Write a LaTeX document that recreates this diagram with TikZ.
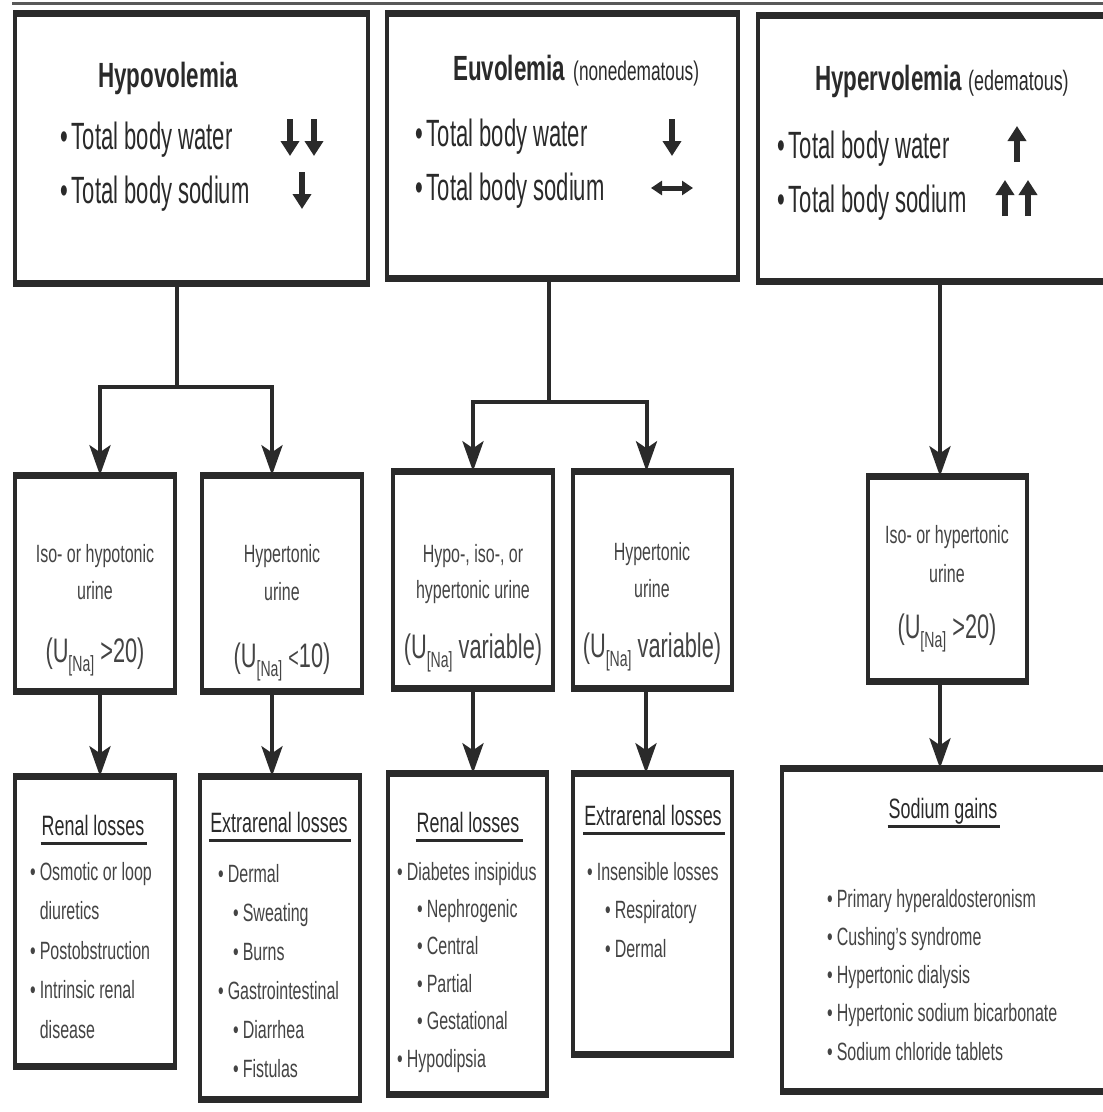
\documentclass[tikz,border=0pt]{standalone}
\usepackage{fontspec}
\setmainfont{Liberation Sans}[FakeStretch=0.64]
\newfontfamily\narrowfont{Liberation Sans}[FakeStretch=0.58]
\usetikzlibrary{arrows.meta,calc}
\definecolor{ink}{HTML}{2A2A2A}
\definecolor{softink}{HTML}{444444}
\newcommand\Una{U\raisebox{-0.28em}{\fontsize{22}{22}\selectfont[Na]}}
\newcommand\mylist[1]{\vtop{\halign{##\hfil\cr#1\crcr}}}
\newcommand\bl{•\hskip4pt}
\newcommand\mybox[5]{%
  \pgfmathsetmacro\myBW{#4-#2}\pgfmathsetmacro\myBH{#5-#3}%
  \node[box, minimum width=\myBW pt, minimum height=\myBH pt] (#1) at ({(#2+#4)/2},{(#3+#5)/2}) {};
  \draw[edge] (#1.north west) -- (#1.north east);
  \draw[edge] (#1.south west) -- (#1.south east);
}
\tikzset{
  box/.style={draw=ink, line width=3.5pt, fill=white, inner sep=0pt},
  edge/.style={draw=ink, line width=6.5pt},
  conn/.style={draw=ink, line width=4pt, line join=miter},
  arr/.style={conn, -{Stealth[length=30pt,width=21pt,inset=7pt]}},
  sym/.style={draw=ink, line width=6.5pt, -{Triangle[length=15pt,width=18pt]}},
  sym2/.style={draw=ink, line width=5pt, {Triangle[length=11pt,width=14pt]}-{Triangle[length=11pt,width=14pt]}},
  ul/.style={draw=ink, line width=3pt},
  ttl/.style={inner sep=0pt, text=ink, font=\fontsize{35}{40}\selectfont\bfseries},
  bul/.style={inner sep=0pt, text=ink, font=\narrowfont\fontsize{38}{44}\selectfont},
  mid/.style={inner sep=0pt, text=softink, font=\fontsize{25}{30}\selectfont},
  una/.style={inner sep=0pt, text=softink, font=\fontsize{34}{40}\selectfont},
  hdr/.style={inner sep=0pt, text=ink, font=\fontsize{28}{32}\selectfont},
  lst/.style={inner sep=0pt, text=softink, font=\fontsize{25}{38.5}\selectfont},
}
\begin{document}
\begin{tikzpicture}[x=1pt,y=-1pt]
\useasboundingbox (0,0) rectangle (1103,1112);
\clip (0,0) rectangle (1103,1112);
\fill[white] (0,0) rectangle (1103,1112);
\draw[gray!70!black, line width=3pt] (12,3) -- (1103,3);

% boxes
\mybox{hypo}{15}{15}{368}{282}
\mybox{euvo}{387}{15}{738}{277}
\mybox{hyper}{758}{17}{1112}{280}
\mybox{isoA}{15}{477}{175}{690}
\mybox{hypB}{202}{477}{362}{690}
\mybox{varC}{393}{473}{553}{687}
\mybox{varD}{573}{473}{732}{687}
\mybox{isoE}{868}{478}{1027}{680}
\mybox{renF}{15}{778}{175}{1065}
\mybox{extG}{200}{778}{360}{1098}
\mybox{renH}{388}{775}{547}{1093}
\mybox{extI}{573}{775}{732}{1053}
\mybox{gainJ}{782}{770}{1112}{1090}

% top box texts
\node[ttl, anchor=base] (hypoT) at (168,87) {Hypovolemia};
\node[bul, anchor=base west] (hypoW) at (60,149) {\bl Total body water};
\node[bul, anchor=base west] (hypoS) at (60,203) {\bl Total body sodium};
\draw[sym] (290,119) -- (290,156);
\draw[sym] (314,119) -- (314,156);
\draw[sym] (302,172) -- (302,209);

\node[ttl, anchor=base west] (euvoT) at (453,80) {Euvolemia\hskip8pt{\mdseries\fontsize{27}{30}\selectfont(nonedematous)}};
\node[bul, anchor=base west] (euvoW) at (415,146) {\bl Total body water};
\node[bul, anchor=base west] (euvoS) at (415,200) {\bl Total body sodium};
\draw[sym] (672,119) -- (672,156);
\draw[sym2] (651,188) -- (693,188);

\node[ttl, anchor=base west] (hyperT) at (815,90) {Hypervolemia\hskip6pt{\mdseries\fontsize{28}{30}\selectfont(edematous)}};
\node[bul, anchor=base west] (hyperW) at (777,158) {\bl Total body water};
\node[bul, anchor=base west] (hyperS) at (777,212) {\bl Total body sodium};
\draw[sym] (1017,162) -- (1017,126);
\draw[sym] (1005,216) -- (1005,180);
\draw[sym] (1028,216) -- (1028,180);

% connectors top -> middle
\draw[conn] ([xshift=-14.5pt]hypo.south) -- (177,387) coordinate (hypoJ);
\draw[arr] (hypoJ) -| ([xshift=5pt]isoA.north);
\draw[arr] (hypoJ) -| ([xshift=-10pt]hypB.north);
\draw[conn] ([xshift=-13.5pt]euvo.south) -- (549,402) coordinate (euvoJ);
\draw[arr] (euvoJ) -| (varC.north);
\draw[arr] (euvoJ) -| ([xshift=-6pt]varD.north);
\draw[arr] ([xshift=5pt]hyper.south) -- ([xshift=-7.5pt]isoE.north);

% middle texts
\node[mid, anchor=base] (aL1) at (95,562) {Iso- or hypotonic};
\node[mid, anchor=base] (aL2) at (95,599) {urine};
\node[una, anchor=base] (aL3) at (95,662) {(\Una{} >20)};
\node[mid, anchor=base] (bL1) at (282,562) {Hypertonic};
\node[mid, anchor=base] (bL2) at (282,600) {urine};
\node[una, anchor=base] (bL3) at (282,667) {(\Una{} {\fontsize{28}{30}\selectfont<}10)};
\node[mid, anchor=base] (cL1) at (473,562) {Hypo-, iso-, or};
\node[mid, anchor=base] (cL2) at (473,598) {hypertonic urine};
\node[una, anchor=base] (cL3) at (473,658) {(\Una{} variable)};
\node[mid, anchor=base] (dL1) at (652,560) {Hypertonic};
\node[mid, anchor=base] (dL2) at (652,597) {urine};
\node[una, anchor=base] (dL3) at (652,657) {(\Una{} variable)};
\node[mid, anchor=base] (eL1) at (947,543) {Iso- or hypertonic};
\node[mid, anchor=base] (eL2) at (947,582) {urine};
\node[una, anchor=base] (eL3) at (947,638) {(\Una{} >20)};

% connectors middle -> bottom
\draw[arr] ([xshift=5pt]isoA.south) -- ([xshift=5pt]renF.north);
\draw[arr] ([xshift=-10pt]hypB.south) -- ([xshift=-8pt]extG.north);
\draw[arr] (varC.south) -- ([xshift=5.5pt]renH.north);
\draw[arr] ([xshift=-6.5pt]varD.south) -- ([xshift=-6.5pt]extI.north);
\draw[arr] ([xshift=-7.5pt]isoE.south) -- ([xshift=-7pt]gainJ.north);

% bottom headers
\node[hdr, anchor=base] (hdrF) at (93,835) {Renal losses};
\node[hdr, anchor=base] (hdrG) at (279,832) {Extrarenal losses};
\node[hdr, anchor=base] (hdrH) at (468,832) {Renal losses};
\node[hdr, anchor=base] (hdrI) at (653,825) {Extrarenal losses};
\node[hdr, anchor=base] (hdrJ) at (943,818) {Sodium gains};
\foreach \h in {hdrF,hdrG,hdrH,hdrI,hdrJ}{
  \draw[ul] ($(\h.base west)+(-1,8)$) -- ($(\h.base east)+(3,8)$);
}

% bottom lists
\node[lst, anchor=base west, font=\fontsize{25}{39.5}\selectfont] (lstF) at (30,880) {\mylist{%
\bl Osmotic or loop\cr
\hphantom{\bl}diuretics\cr
\bl Postobstruction\cr
\bl Intrinsic renal\cr
\hphantom{\bl}disease}};
\node[lst, anchor=base west, font=\fontsize{25}{39}\selectfont] (lstG) at (218,882) {\mylist{%
\bl Dermal\cr
\hskip15pt\bl Sweating\cr
\hskip15pt\bl Burns\cr
\bl Gastrointestinal\cr
\hskip15pt\bl Diarrhea\cr
\hskip15pt\bl Fistulas}};
\node[lst, anchor=base west, font=\fontsize{25}{37.4}\selectfont] (lstH) at (397,880) {\mylist{%
\bl Diabetes insipidus\cr
\hskip20pt\bl Nephrogenic\cr
\hskip20pt\bl Central\cr
\hskip20pt\bl Partial\cr
\hskip20pt\bl Gestational\cr
\bl Hypodipsia}};
\node[lst, anchor=base west, font=\fontsize{25}{38.5}\selectfont] (lstI) at (587,880) {\mylist{%
\bl Insensible losses\cr
\hskip18pt\bl Respiratory\cr
\hskip18pt\bl Dermal}};
\node[lst, anchor=base west, font=\fontsize{25}{38.3}\selectfont] (lstJ) at (827,907) {\mylist{%
\bl Primary hyperaldosteronism\cr
\bl Cushing's syndrome\cr
\bl Hypertonic dialysis\cr
\bl Hypertonic sodium bicarbonate\cr
\bl Sodium chloride tablets}};
\end{tikzpicture}
\end{document}
